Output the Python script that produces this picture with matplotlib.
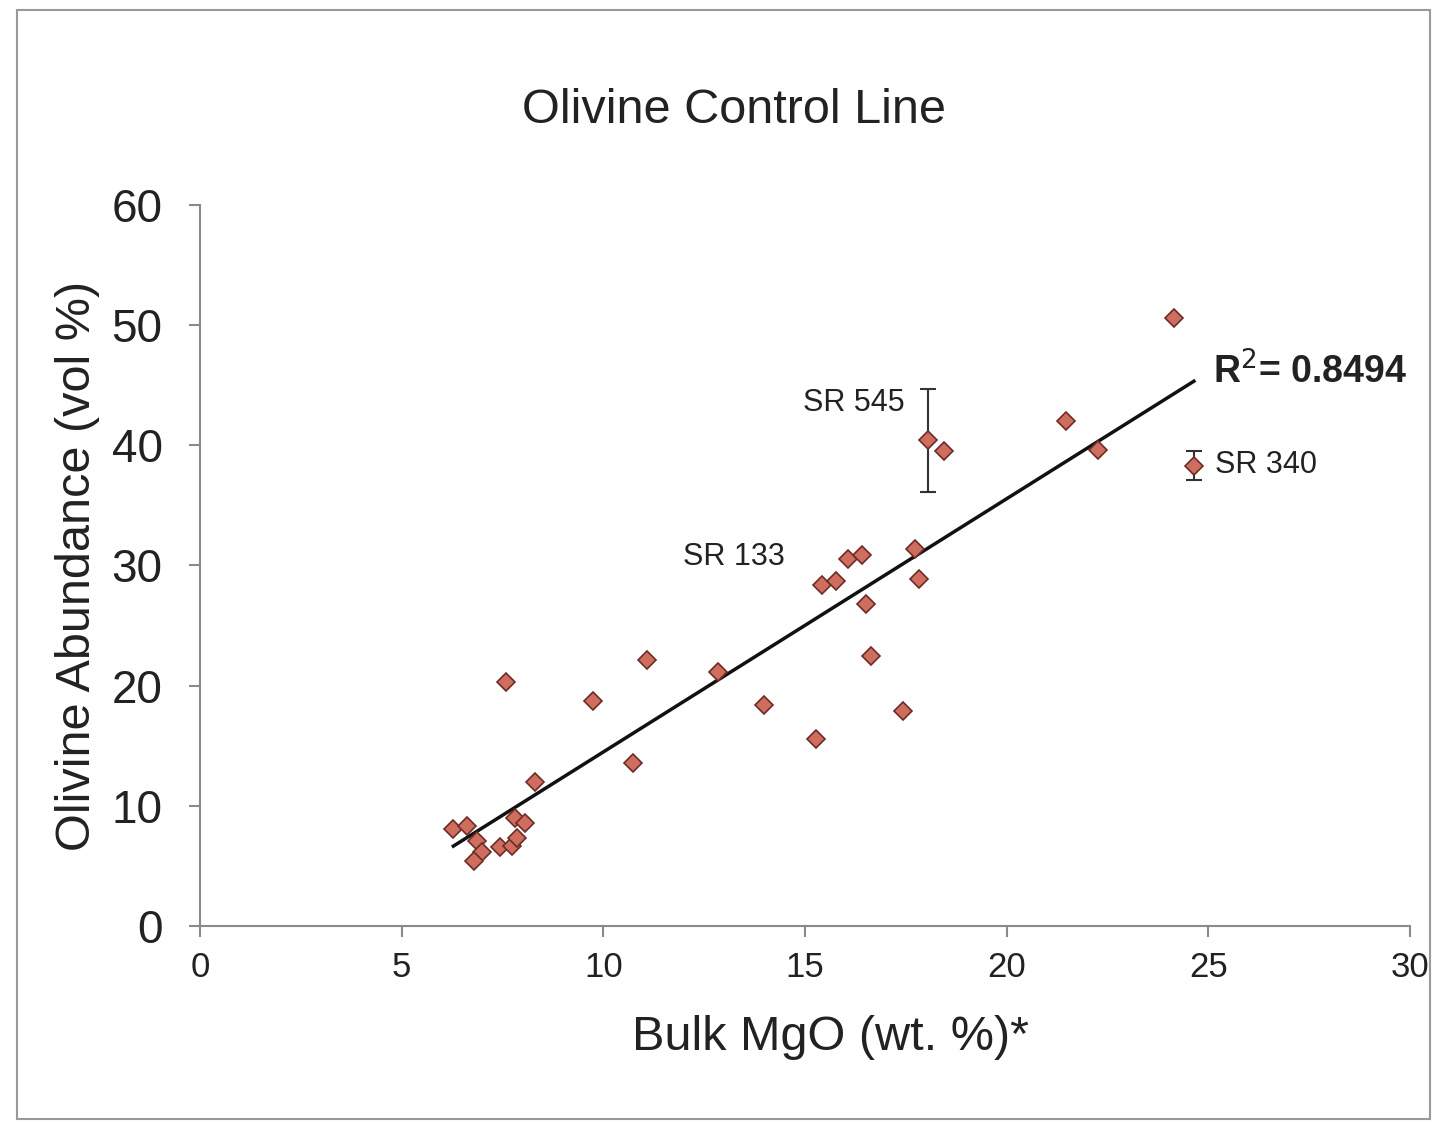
import numpy as np
import matplotlib.pyplot as plt
from matplotlib.patches import Rectangle

plt.rcParams['font.family'] = ['Liberation Sans', 'DejaVu Sans']

# Bulk MgO (wt. %) vs olivine abundance (vol %)
mgo = [6.28, 6.62, 6.87, 7.00, 6.78, 7.44, 7.73, 7.86, 7.82, 8.06, 8.31, 7.59,
       9.75, 11.09, 10.74, 12.85, 13.97, 15.26, 15.43, 15.76, 16.07, 16.40, 16.50,
       16.63, 17.44, 17.72, 17.82, 18.06, 18.44, 21.46, 22.26, 24.14, 24.64]
olivine = [8.1, 8.3, 7.1, 6.2, 5.4, 6.6, 6.7, 7.3, 9.0, 8.6, 12.0, 20.3,
           18.7, 22.1, 13.6, 21.1, 18.4, 15.6, 28.4, 28.7, 30.5, 30.9, 26.8,
           22.5, 17.9, 31.4, 28.9, 40.4, 39.5, 42.0, 39.6, 50.6, 38.3]

# samples with error bars
err_names = ['SR 545', 'SR 340']
err_x = [18.06, 24.64]
err_y = [40.4, 38.3]
err_size = [4.3, 1.2]

x = np.array(mgo)
y = np.array(olivine)

fig = plt.figure(figsize=(14.33, 11.23), dpi=100)
ax = fig.add_axes([0.1396, 0.1754, 0.8444, 0.6421])

# frame around the chart
fig.patches.append(Rectangle((0.012, 0.004), 0.986, 0.987, transform=fig.transFigure,
                             fill=False, edgecolor='#9a9a9a', linewidth=1.5))

ax.errorbar(err_x, err_y, yerr=err_size, fmt='none', ecolor='#333333',
            elinewidth=1.5, capsize=6, capthick=1.5, zorder=2)

# linear trend line
k, b = np.polyfit(x, y, 1)
xl = np.array([x.min(), x.max()])
ax.plot(xl, k * xl + b, color='#111111', linewidth=2.5, zorder=3)

ax.plot(x, y, 'D', markersize=9.5, markerfacecolor='#cf6e5e',
        markeredgecolor='#6b2d25', markeredgewidth=1.2, zorder=4)

lab = dict(fontsize=22, va='center', color='#222222')
ax.text(17.48, 43.5, 'SR 545', ha='right', **lab)
ax.text(14.5, 30.7, 'SR 133', ha='right', **lab)
ax.text(25.17, 38.4, 'SR 340', ha='left', **lab)
ax.text(25.12, 46.1, r'R$^2$= 0.8494', fontsize=27, fontweight='bold',
        ha='left', va='center', color='#222222')

ax.set_xlim(0, 30)
ax.set_ylim(0, 60)
ax.set_xticks(range(0, 31, 5))
ax.set_yticks(range(0, 61, 10))

for s in ['top', 'right']:
    ax.spines[s].set_visible(False)
for s in ['left', 'bottom']:
    ax.spines[s].set_color('#8a8a8a')
    ax.spines[s].set_linewidth(1.5)

ax.tick_params(axis='x', labelsize=25, colors='#8a8a8a', labelcolor='#222222',
               length=8, width=1.5, pad=10)
ax.tick_params(axis='y', labelsize=33, colors='#8a8a8a', labelcolor='#222222',
               length=8, width=1.5, pad=19)

ax.set_xlabel('Bulk MgO (wt. %)*', fontsize=35, color='#222222')
ax.xaxis.set_label_coords(0.521, -0.123)
ax.set_ylabel('Olivine Abundance (vol %)', fontsize=35, color='#222222', labelpad=8)
fig.text(0.512, 0.902, 'Olivine Control Line', fontsize=35, ha='center', va='center',
         color='#222222')

fig.savefig('out.png', dpi=100)
